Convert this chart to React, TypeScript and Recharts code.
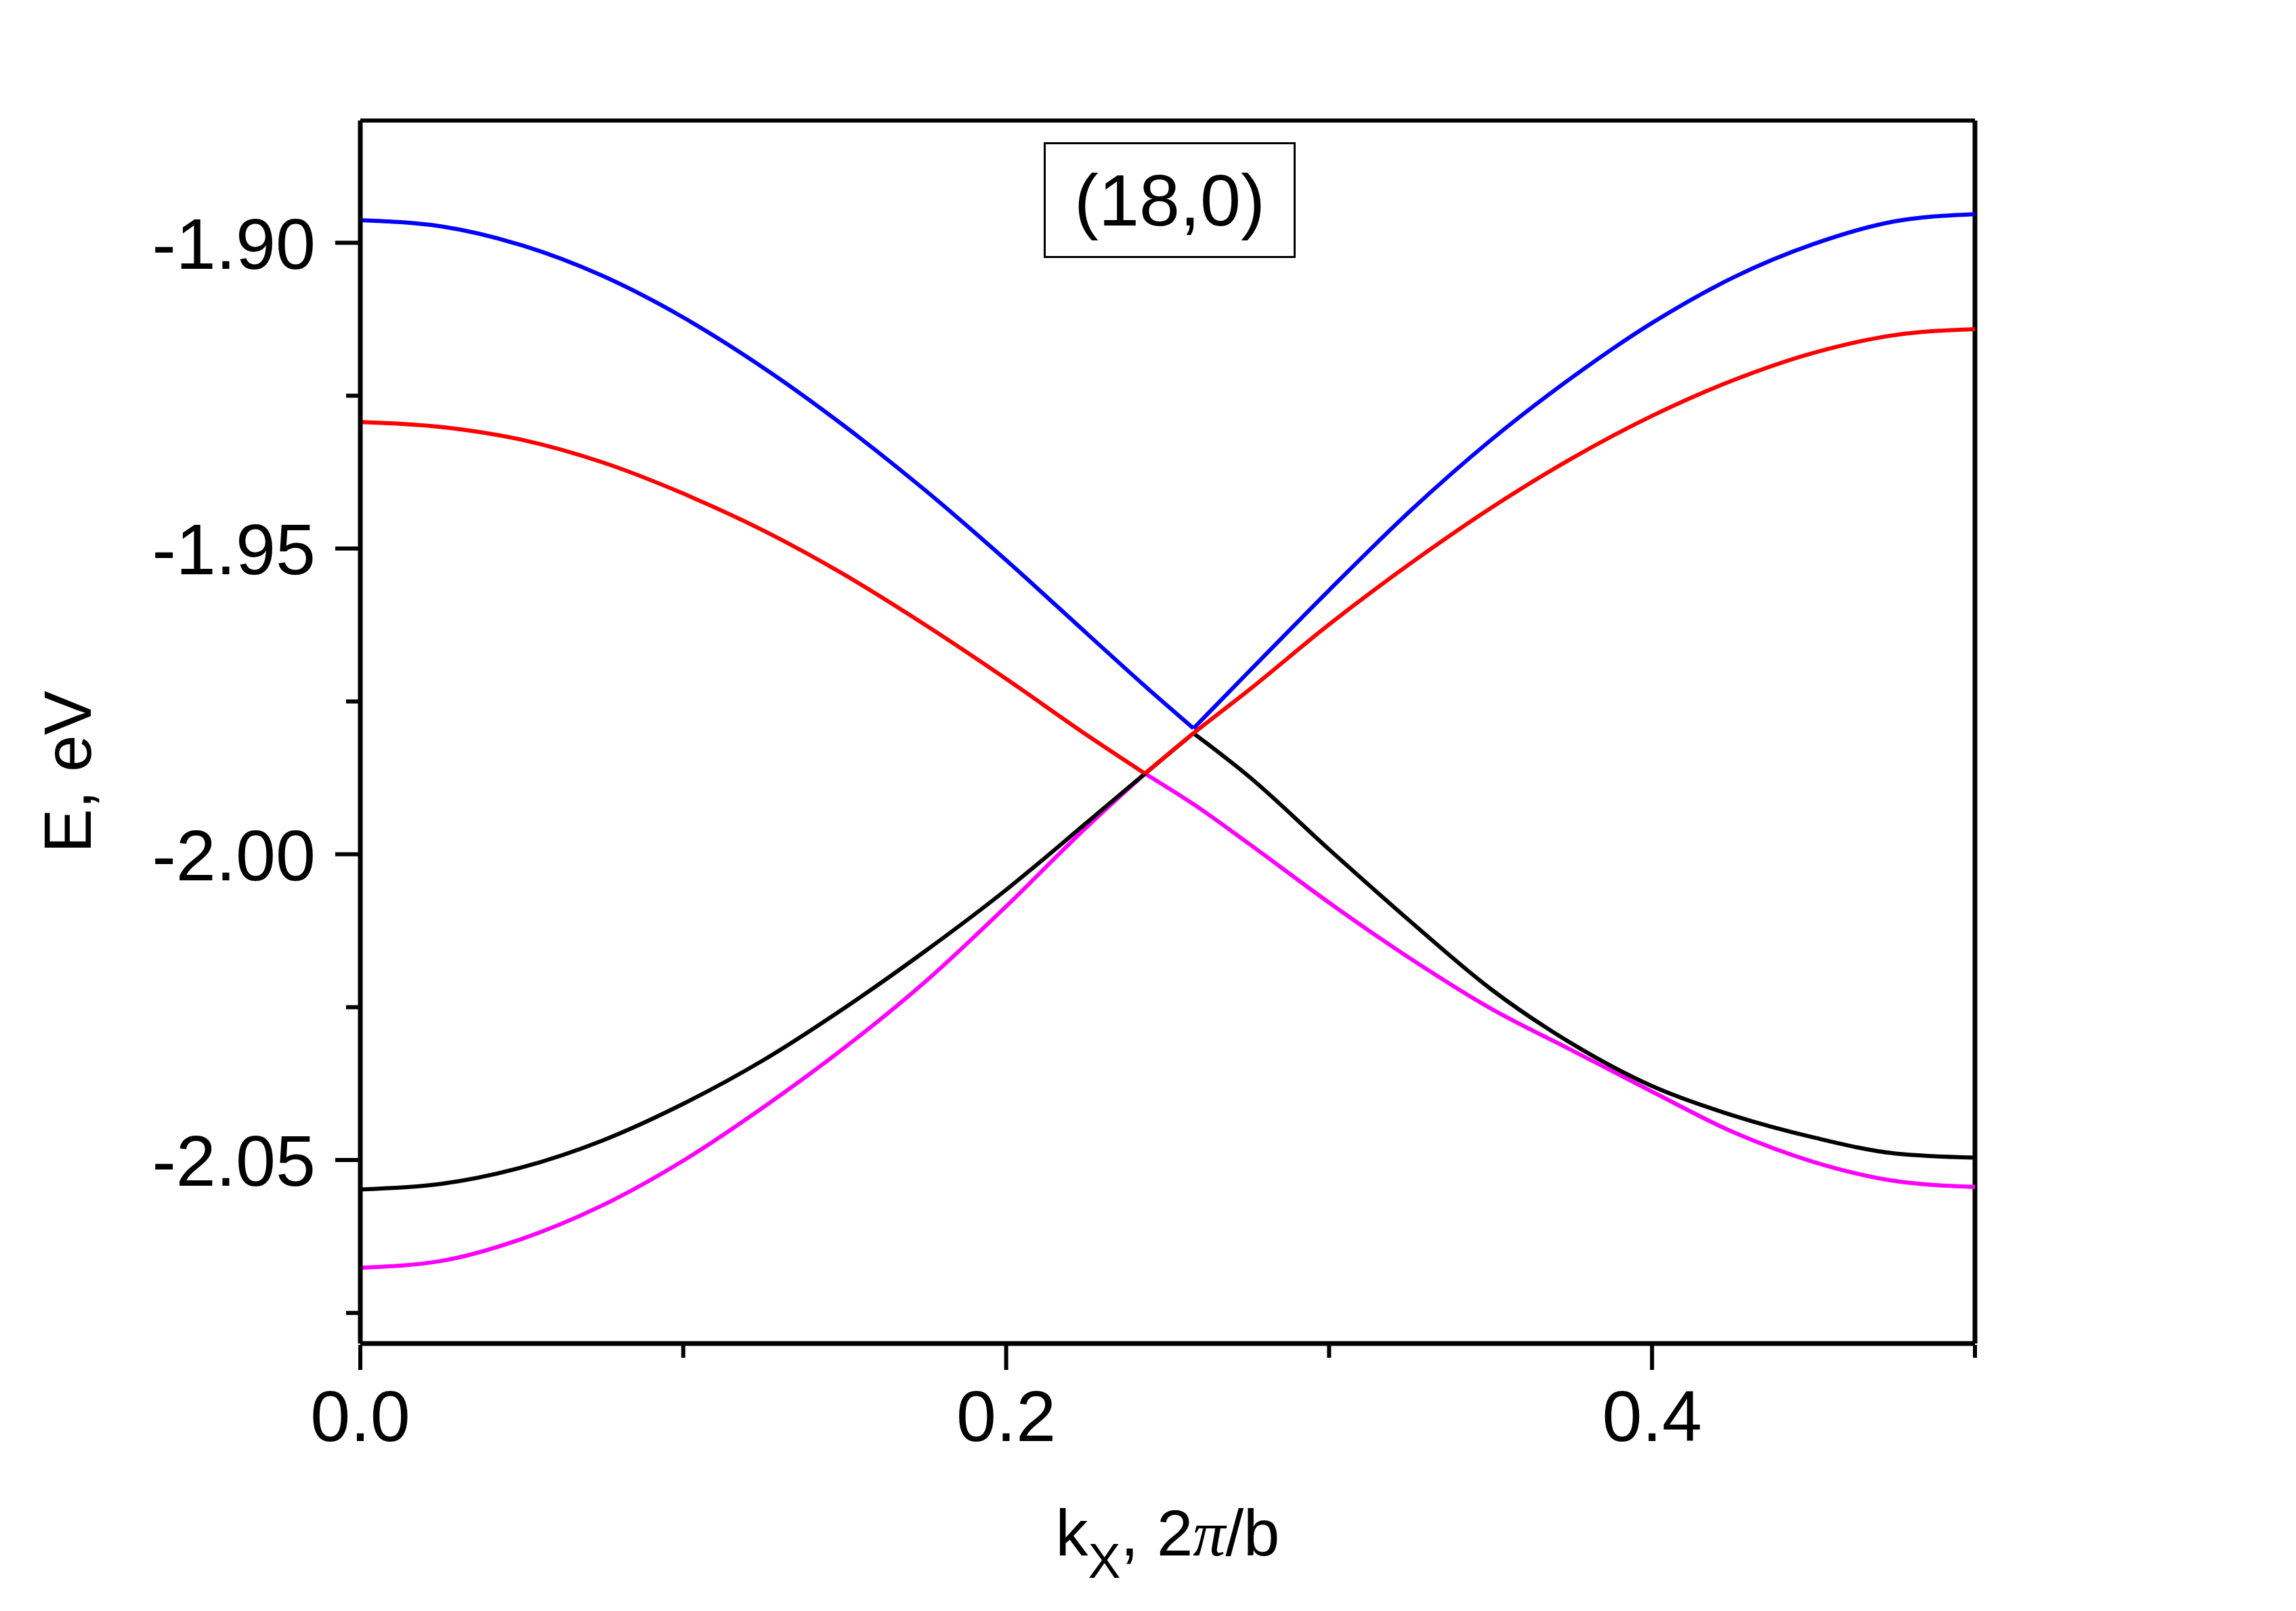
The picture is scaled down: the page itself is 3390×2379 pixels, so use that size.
import { Label, Line, LineChart, ReferenceLine, XAxis, YAxis } from "recharts";

// k_x sample points (units of 2π/b) and band energies (eV)
const kx = [
  0, 0.025, 0.05, 0.075, 0.1, 0.125, 0.15, 0.175, 0.2, 0.225, 0.243, 0.258,
  0.275, 0.3, 0.325, 0.35, 0.375, 0.4, 0.425, 0.45, 0.475, 0.5,
];
const blueBand = [
  -1.8963, -1.8973, -1.9004, -1.9054, -1.9122, -1.9205, -1.93, -1.9405,
  -1.9519, -1.9639, -1.9725, -1.9794, -1.9702, -1.9568, -1.9439, -1.9323,
  -1.9221, -1.9131, -1.9057, -1.9002, -1.8965, -1.8953,
];
const redBand = [
  -1.9293, -1.9301, -1.9322, -1.9359, -1.941, -1.9471, -1.9543, -1.9625,
  -1.9713, -1.9805, -1.9868, -1.9802, -1.9732, -1.9624, -1.9525, -1.9434,
  -1.9353, -1.9283, -1.9225, -1.918, -1.9151, -1.9141,
];
const blackBand = [
  -2.0548, -2.0539, -2.0512, -2.0468, -2.0408, -2.0336, -2.0251, -2.0158,
  -2.0058, -1.9948, -1.9868, -1.9802, -1.9872, -1.9992, -2.0109, -2.022,
  -2.0309, -2.0379, -2.0427, -2.0463, -2.0489, -2.0496,
];
const magentaBand = [
  -2.0676, -2.0665, -2.0629, -2.0574, -2.0501, -2.0413, -2.0316, -2.0208,
  -2.0085, -1.9955, -1.9868, -1.9918, -1.9982, -2.0079, -2.017, -2.0252,
  -2.032, -2.0388, -2.0454, -2.0503, -2.0534, -2.0544,
];

// k where a band has a sharp corner (band crossings)
const blueKinks = [0.258];
const redKinks = [0.243];
const blackKinks = [0.258];
const magentaKinks = [0.243];

const xMajor = [0, 0.2, 0.4];
const xMinor = [0.1, 0.3, 0.5];
const yMajor = [-2.05, -2.0, -1.95, -1.9];
const yMinor = [-2.075, -2.025, -1.975, -1.925];

const bands = [
  { name: "magenta", values: magentaBand, kinks: magentaKinks, color: "#ff00ff" },
  { name: "black", values: blackBand, kinks: blackKinks, color: "#000000" },
  { name: "red", values: redBand, kinks: redKinks, color: "#ff0000" },
  { name: "blue", values: blueBand, kinks: blueKinks, color: "#0000ff" },
];

// split each band into pieces between its corners, so the smooth curve keeps the corners sharp
const rows = kx.map((k, i) => {
  const row: Record<string, number | null> = { k };
  for (const b of bands) {
    const edges = [0, ...b.kinks, 0.5];
    for (let s = 0; s < edges.length - 1; s++) {
      row[`${b.name}${s}`] = k >= edges[s] - 1e-9 && k <= edges[s + 1] + 1e-9 ? b.values[i] : null;
    }
  }
  return row;
});

const FONT = "'Liberation Sans', Arial, sans-serif";
const isIn = (list: number[], v: number) => list.some((m) => Math.abs(m - v) < 1e-6);

function XTick(props: any) {
  const { x, y, payload } = props;
  const major = isIn(xMajor, payload.value);
  return (
    <g>
      <line x1={x} x2={x} y1={y} y2={y + (major ? 37 : 19)} stroke="#000" strokeWidth={6} />
      {major && (
        <text x={x} y={y + 142} textAnchor="middle" fontSize={106} fontFamily={FONT} fill="#000">
          {payload.value.toFixed(1)}
        </text>
      )}
    </g>
  );
}

function YTick(props: any) {
  const { x, y, payload } = props;
  const major = isIn(yMajor, payload.value);
  return (
    <g>
      <line x1={x - (major ? 35 : 19)} x2={x} y1={y} y2={y} stroke="#000" strokeWidth={6} />
      {major && (
        <text x={x - 64} y={y + 38} textAnchor="end" fontSize={106} fontFamily={FONT} fill="#000">
          {payload.value.toFixed(2)}
        </text>
      )}
    </g>
  );
}

export default function App() {
  return (
    <div style={{ position: "absolute", left: 0, top: 0, width: 3390, height: 2379, background: "#fff" }}>
      <LineChart
        width={3390}
        height={2379}
        data={rows}
        margin={{ top: 178, right: 474, bottom: 95, left: 132 }}
      >
        <XAxis
          dataKey="k"
          type="number"
          domain={[0, 0.5]}
          ticks={[...xMajor, ...xMinor].sort((a, b) => a - b)}
          interval={0}
          height={300}
          tickSize={0}
          tickLine={false}
          tick={<XTick />}
          axisLine={{ stroke: "#000", strokeWidth: 7 }}
        >
          <Label
            content={({ viewBox }: any) => (
              <text
                x={viewBox.x + viewBox.width / 2}
                y={viewBox.y + 313}
                textAnchor="middle"
                fontSize={96}
                fontFamily={FONT}
                fill="#000"
              >
                k
                <tspan fontSize={72} dy={33}>X</tspan>
                <tspan dy={-33}>, 2</tspan>
                <tspan fontFamily="'Liberation Serif', serif" fontStyle="italic">π</tspan>
                <tspan>/b</tspan>
              </text>
            )}
          />
        </XAxis>
        <YAxis
          type="number"
          domain={[-2.08, -1.88]}
          ticks={[...yMinor, ...yMajor].sort((a, b) => a - b)}
          interval={0}
          width={400}
          tickSize={0}
          tickLine={false}
          tick={<YTick />}
          allowDataOverflow
          axisLine={{ stroke: "#000", strokeWidth: 7 }}
        >
          <Label
            content={() => (
              <text
                x={134}
                y={1140}
                transform="rotate(-90 134 1140)"
                textAnchor="middle"
                fontSize={98}
                fontFamily={FONT}
                fill="#000"
              >
                E, eV
              </text>
            )}
          />
        </YAxis>
        <ReferenceLine y={-1.88} stroke="#000" strokeWidth={6} />
        <ReferenceLine x={0.5} stroke="#000" strokeWidth={7} />
        {bands.flatMap((b) =>
          [0, ...b.kinks].map((_, s) => (
            <Line
              key={`${b.name}${s}`}
              type="monotone"
              dataKey={`${b.name}${s}`}
              stroke={b.color}
              strokeWidth={6}
              dot={false}
              connectNulls={false}
              isAnimationActive={false}
            />
          )),
        )}
      </LineChart>
      <div
        style={{
          position: "absolute",
          left: 1541,
          top: 210,
          width: 366,
          height: 165,
          border: "3px solid #000",
          display: "flex",
          alignItems: "center",
          justifyContent: "center",
          fontFamily: FONT,
          fontSize: 108,
          lineHeight: 1,
          color: "#000",
        }}
      >
        (18,0)
      </div>
    </div>
  );
}
